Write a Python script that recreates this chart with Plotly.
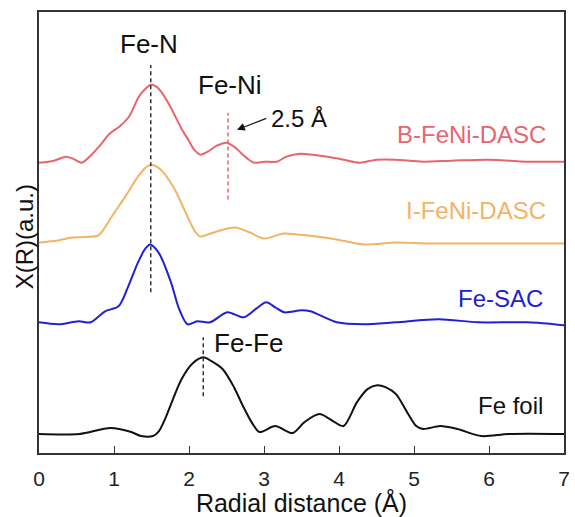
import plotly.graph_objects as go

# ---------------- data ----------------
x_b = [0, 0.2, 0.36, 0.45, 0.57, 0.7, 0.8, 0.94, 1.07, 1.2, 1.33, 1.42, 1.49, 1.57, 1.64, 1.73, 1.82, 1.9, 1.99,
       2.07, 2.15, 2.25, 2.37, 2.5, 2.6, 2.69, 2.78, 2.87, 3.0, 3.17, 3.3, 3.48, 3.65, 3.85, 4.06, 4.28, 4.5,
       4.75, 5.12, 5.5, 5.99, 6.5, 7.0]
y_b = [2.91, 2.93, 2.97, 2.95, 2.91, 2.99, 3.07, 3.20, 3.27, 3.37, 3.57, 3.65, 3.69, 3.67, 3.61, 3.50, 3.37, 3.25,
       3.14, 3.04, 2.99, 3.02, 3.08, 3.11, 3.07, 3.01, 2.95, 2.91, 2.92, 2.92, 2.97, 3.00, 2.99, 2.97, 2.94, 2.91,
       2.94, 2.94, 2.92, 2.93, 2.94, 2.92, 2.92]

x_i = [0, 0.25, 0.44, 0.62, 0.79, 0.86, 0.97, 1.15, 1.32, 1.42, 1.49, 1.57, 1.65, 1.81, 1.98, 2.08, 2.15, 2.25,
       2.37, 2.61, 2.81, 3.0, 3.26, 3.44, 3.7, 3.97, 4.33, 4.76, 5.2, 5.65, 6.3, 7.0]
y_i = [2.11, 2.13, 2.16, 2.165, 2.18, 2.24, 2.37, 2.57, 2.77, 2.86, 2.89, 2.87, 2.82, 2.64, 2.37, 2.22, 2.17,
       2.19, 2.22, 2.26, 2.21, 2.15, 2.20, 2.19, 2.17, 2.14, 2.09, 2.11, 2.10, 2.10, 2.10, 2.10]

x_s = [0, 0.26, 0.53, 0.69, 0.88, 1.06, 1.19, 1.32, 1.42, 1.48, 1.54, 1.61, 1.76, 1.87, 1.98, 2.11, 2.28, 2.51,
       2.73, 2.9, 3.03, 3.15, 3.27, 3.5, 3.62, 3.97, 4.33, 4.76, 5.33, 5.86, 6.52, 7.0]
y_s = [1.31, 1.29, 1.32, 1.31, 1.42, 1.47, 1.67, 1.91, 2.05, 2.09, 2.06, 1.99, 1.71, 1.44, 1.29, 1.32, 1.31, 1.41,
       1.36, 1.45, 1.51, 1.46, 1.41, 1.43, 1.42, 1.31, 1.29, 1.31, 1.34, 1.31, 1.31, 1.28]

x_f = [0, 0.54, 0.95, 1.23, 1.36, 1.52, 1.6, 1.68, 1.9, 2.05, 2.19, 2.3, 2.45, 2.6, 2.72, 2.85, 2.94, 3.15, 3.38,
       3.54, 3.74, 3.92, 4.06, 4.24, 4.38, 4.51, 4.62, 4.76, 4.9, 5.03, 5.12, 5.35, 5.58, 5.9, 6.26, 7.0]
y_f = [0.19, 0.19, 0.25, 0.21, 0.17, 0.17, 0.22, 0.34, 0.74, 0.90, 0.96, 0.92, 0.84, 0.66, 0.47, 0.29, 0.21, 0.27,
       0.20, 0.31, 0.39, 0.32, 0.27, 0.51, 0.64, 0.68, 0.66, 0.59, 0.42, 0.27, 0.24, 0.27, 0.24, 0.17, 0.19, 0.19]

series_names = ["B-FeNi-DASC", "I-FeNi-DASC", "Fe-SAC", "Fe foil"]
series_colors = ["#E8646E", "#F5B265", "#2121D4", "#111111"]
label_y = [3.19, 2.43, 1.55, 0.48]
label_x = [6.78, 6.78, 6.74, 6.74]

# peak markers: x position, y start, y end, colour
peak_names = ["Fe-N", "Fe-Ni", "Fe-Fe"]
peak_x = [1.49, 2.52, 2.19]
peak_y0 = [1.61, 2.54, 0.57]
peak_y1 = [3.89, 3.41, 1.16]
peak_colors = ["#333333", "#E8646E", "#333333"]

FONT = "Liberation Sans, Arial, sans-serif"

fig = go.Figure()
for xs, ys, name, col in zip([x_b, x_i, x_s, x_f], [y_b, y_i, y_s, y_f], series_names, series_colors):
    fig.add_trace(go.Scatter(x=xs, y=ys, mode="lines", name=name,
                             line=dict(color=col, width=2, shape="spline", smoothing=0.8),
                             showlegend=False))

for px, y0, y1, col in zip(peak_x, peak_y0, peak_y1, peak_colors):
    fig.add_trace(go.Scatter(x=[px, px], y=[y0, y1], mode="lines",
                             line=dict(color=col, width=1.5, dash="4px,3px"),
                             showlegend=False, hoverinfo="skip"))

# series labels
for name, col, lx, ly in zip(series_names, series_colors, label_x, label_y):
    fig.add_annotation(x=lx, y=ly, text=name, showarrow=False, xanchor="right", yanchor="middle",
                       font=dict(size=24, color=col, family=FONT))

# peak labels
fig.add_annotation(x=1.46, y=4.10, text="Fe-N", showarrow=False, xanchor="center", yanchor="middle",
                   font=dict(size=26, color="#111111", family=FONT))
fig.add_annotation(x=2.55, y=3.69, text="Fe-Ni", showarrow=False, xanchor="center", yanchor="middle",
                   font=dict(size=26, color="#111111", family=FONT))
fig.add_annotation(x=2.30, y=1.10, text="Fe-Fe", showarrow=False, xanchor="left", yanchor="middle",
                   font=dict(size=26, color="#111111", family=FONT))
# 2.5 Å with arrow
fig.add_annotation(x=3.07, y=3.35, text="2.5 Å", showarrow=False, xanchor="left", yanchor="middle",
                   font=dict(size=24, color="#111111", family=FONT))
fig.add_annotation(x=2.64, y=3.24, ax=3.05, ay=3.36, xref="x", yref="y", axref="x", ayref="y",
                   text="", showarrow=True, arrowhead=2, arrowsize=1.2, arrowwidth=1.3, arrowcolor="#111111")

# y-axis title
fig.add_annotation(xref="paper", yref="paper", x=0, y=0.489, xshift=-15, text="X(R)(a.u.)",
                   textangle=-90, showarrow=False, xanchor="center", yanchor="middle",
                   font=dict(size=24, color="#111111", family=FONT))

fig.update_layout(
    width=575, height=517,
    margin=dict(l=39, r=5, t=12, b=63),
    paper_bgcolor="white", plot_bgcolor="white",
    font=dict(family=FONT, color="#111111"),
    xaxis=dict(range=[0, 7], tickvals=[0, 1, 2, 3, 4, 5, 6, 7], ticks="inside", ticklen=7, tickwidth=1.2,
               tickcolor="#333333", showline=True, linecolor="#333333", linewidth=1.5, mirror=True,
               showgrid=False, zeroline=False, tickfont=dict(size=21, family=FONT, color="#222222"),
               ticklabelstandoff=6,
               title=dict(text="Radial distance (Å)", font=dict(size=25, family=FONT, color="#111111"),
                          standoff=5)),
    yaxis=dict(range=[0, 4.42], showticklabels=False, ticks="", showline=True, linecolor="#333333",
               linewidth=1.5, mirror=True, showgrid=False, zeroline=False),
)

fig.write_html("out.html")
